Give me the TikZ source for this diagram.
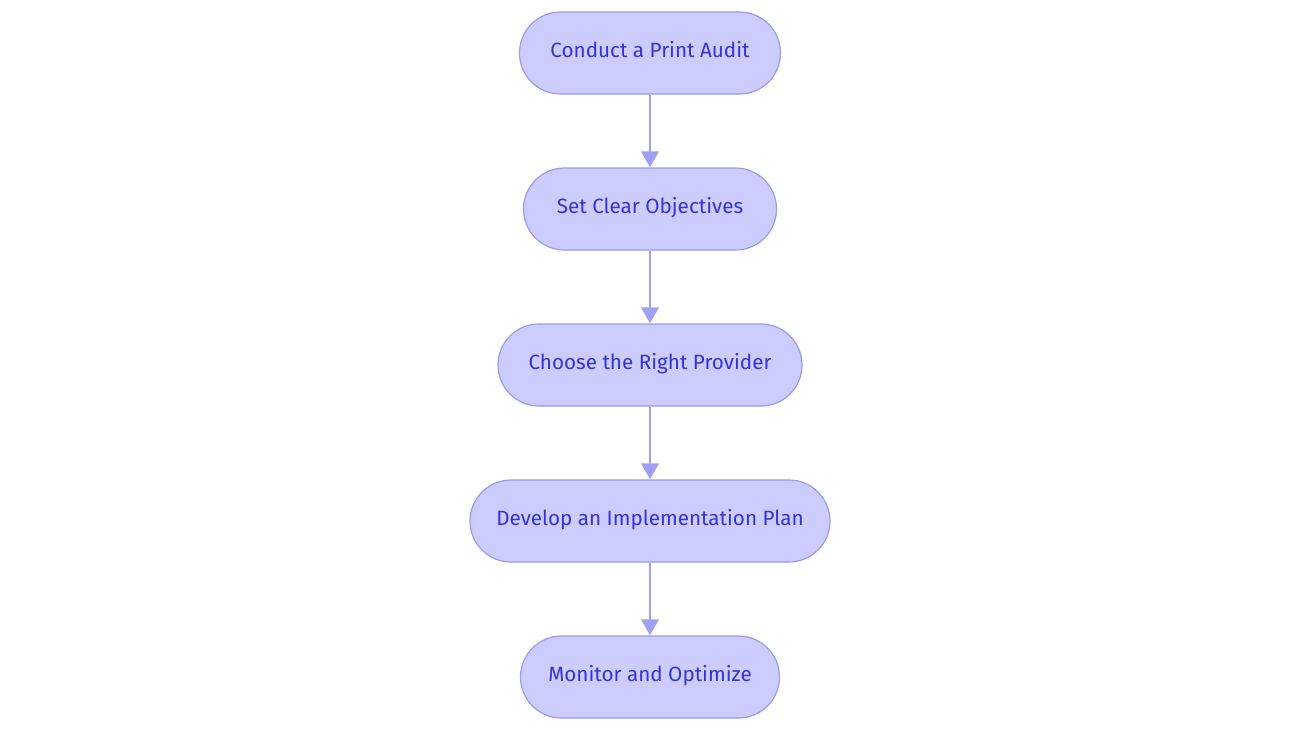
\documentclass[tikz,border=0pt]{standalone}
\usepackage{fontspec}
\setmainfont{Fira Sans}
\usetikzlibrary{arrows.meta}
\definecolor{boxfill}{HTML}{CCCCFF}
\definecolor{boxline}{HTML}{9A9AEE}
\definecolor{boxtext}{HTML}{3333D6}
\definecolor{arrowcol}{HTML}{A0A0F2}
\tikzset{
  stepbox/.style={draw=boxline, fill=boxfill, line width=0.9pt, rounded corners=30.75pt,
    minimum height=61.5pt, text=boxtext, font=\fontsize{15.5}{18}\selectfont, inner sep=0pt,
    text height=11pt, text depth=4.5pt},
  flow/.style={draw=arrowcol, line width=2.2pt, -{Triangle[width=13pt,length=12pt]}}
}
\begin{document}
\begin{tikzpicture}[x=0.75pt,y=-0.75pt]
  \useasboundingbox (0,0) rectangle (1300,733);
  % passi del processo
  \node[stepbox, minimum width=195.75pt] (audit) at (650,53) {Conduct a Print Audit};
  \node[stepbox, minimum width=189.75pt] (goals) at (650,209) {Set Clear Objectives};
  \node[stepbox, minimum width=228pt] (provider) at (650,365) {Choose the Right Provider};
  \node[stepbox, minimum width=270pt] (plan) at (650,521) {Develop an Implementation Plan};
  \node[stepbox, minimum width=194.25pt] (monitor) at (650,677) {Monitor and Optimize};

  % frecce
  \draw[flow] (audit) -- (goals);
  \draw[flow] (goals) -- (provider);
  \draw[flow] (provider) -- (plan);
  \draw[flow] (plan) -- (monitor);
\end{tikzpicture}
\end{document}
